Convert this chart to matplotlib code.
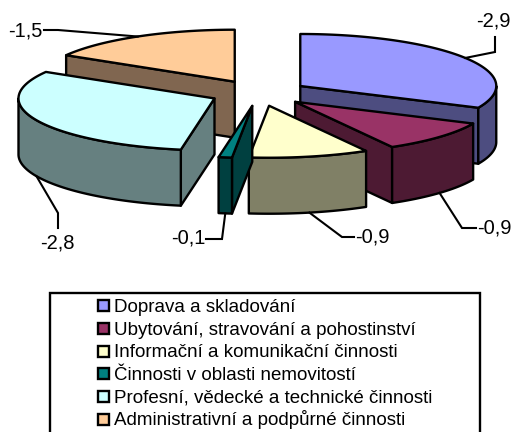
import numpy as np
import matplotlib
matplotlib.use("Agg")
import matplotlib.pyplot as plt
from matplotlib.patches import Polygon, Rectangle

# ---------------- data ----------------
categories = [
    "Doprava a skladování",
    "Ubytování, stravování a pohostinství",
    "Informační a komunikační činnosti",
    "Činnosti v oblasti nemovitostí",
    "Profesní, vědecké a technické činnosti",
    "Administrativní a podpůrné činnosti",
]
values = [-2.9, -0.9, -0.9, -0.1, -2.8, -1.5]
top_colors = ["#9999FF", "#993366", "#FFFFCC", "#008080", "#CCFFFF", "#FFCC99"]
side_colors = ["#4D4D80", "#4D1A33", "#808066", "#004040", "#668080", "#806650"]
value_labels = [f"{v:.1f}".replace(".", ",") for v in values]

# ---------------- layout (pixel space, y down) ----------------
W, H = 515, 432
CX, CY = 259, 93          # pie centre
RX, RY = 196, 52          # ellipse radii
DEPTH = 56                # thickness
EXPLODE = 0.25
FONT = "Liberation Sans"
LW = 1.7

# label text centres and leader elbow points (layout only)
label_xy = [(493, 21), (494, 228), (372, 237), (188, 238), (57, 243), (25, 31)]
leader_mid = [[(495, 52), (495, 37)],
              [(462, 228), (476, 228)],
              [(342, 237), (354, 237)],
              [(222, 239), (206, 239)],
              [(58, 213), (58, 228)],
              [(58, 30), (44, 30)]]

fig = plt.figure(figsize=(W / 100, H / 100), dpi=100)
ax = fig.add_axes([0, 0, 1, 1])
ax.set_xlim(0, W)
ax.set_ylim(H, 0)
ax.axis("off")

sizes = np.abs(np.array(values, dtype=float))
frac = sizes / sizes.sum()
ends = np.cumsum(frac) * 2 * np.pi
starts = ends - frac * 2 * np.pi
mids = (starts + ends) / 2


def rim(apex, th):
    return apex[0] + RX * np.sin(th), apex[1] - RY * np.cos(th)


apexes = []
for m in mids:
    apexes.append((CX + EXPLODE * RX * np.sin(m), CY - EXPLODE * RY * np.cos(m)))

order = sorted(range(len(values)), key=lambda i: -np.cos(mids[i]))

for i in order:
    a = apexes[i]
    t1, t2 = starts[i], ends[i]
    side = side_colors[i]
    # radial faces
    faces = []
    if np.sin(t1) < -1e-6:
        faces.append(t1)
    if np.sin(t2) > 1e-6:
        faces.append(t2)
    for t in faces:
        rx, ry = rim(a, t)
        poly = [(a[0], a[1]), (rx, ry), (rx, ry + DEPTH), (a[0], a[1] + DEPTH)]
        ax.add_patch(Polygon(poly, closed=True, facecolor=side, edgecolor="black",
                             lw=LW, joinstyle="round"))
    # outer wall (front half only)
    lo, hi = max(t1, np.pi / 2), min(t2, 3 * np.pi / 2)
    if hi > lo:
        th = np.linspace(lo, hi, 80)
        xs, ys = rim(a, th)
        pts = list(zip(xs, ys)) + list(zip(xs[::-1], ys[::-1] + DEPTH))
        ax.add_patch(Polygon(pts, closed=True, facecolor=side, edgecolor="black",
                             lw=LW, joinstyle="round"))
    # top face
    th = np.linspace(t1, t2, 120)
    xs, ys = rim(a, th)
    pts = [a] + list(zip(xs, ys))
    ax.add_patch(Polygon(pts, closed=True, facecolor=top_colors[i], edgecolor="black",
                         lw=LW, joinstyle="round"))

# data labels with leader lines
for i in range(len(values)):
    m = mids[i]
    ax_, ay_ = rim(apexes[i], m)
    if np.cos(m) < 0:
        ay_ += DEPTH
    pts = [(ax_, ay_)] + leader_mid[i]
    ax.plot([p[0] for p in pts], [p[1] for p in pts], color="black", lw=1.5,
            solid_joinstyle="miter")
    ax.text(label_xy[i][0], label_xy[i][1], value_labels[i], ha="center", va="center",
            fontsize=14.5, family=FONT, color="black")

# legend
ax.add_patch(Rectangle((50, 293), 430, 160, facecolor="white", edgecolor="black",
                       lw=1.7, clip_on=True))
row0, dy = 305.7, 22.7
for i, name in enumerate(categories):
    y = row0 + dy * i
    ax.add_patch(Rectangle((98, y - 5.5), 11, 11, facecolor=top_colors[i],
                           edgecolor="black", lw=1.7))
    ax.text(114, y + 6.2, name, ha="left", va="baseline", fontsize=13.5,
            family=FONT, color="black")

fig.savefig("out.png", dpi=100)
